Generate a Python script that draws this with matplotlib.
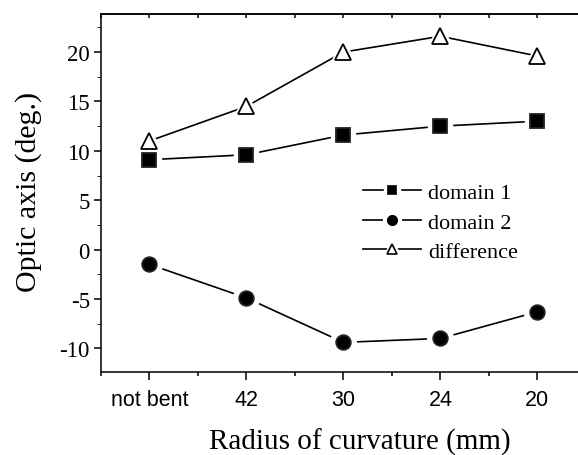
import numpy as np
import matplotlib
matplotlib.use('Agg')
import matplotlib.pyplot as plt
from matplotlib.lines import Line2D
from matplotlib.legend_handler import HandlerTuple
from matplotlib.ticker import MultipleLocator

categories = ['not bent', '42', '30', '24', '20']
domain1 = [9.1, 9.6, 11.6, 12.5, 13.0]
domain2 = [-1.5, -4.9, -9.4, -9.0, -6.3]
difference = [11.0, 14.5, 20.0, 21.6, 19.6]

plt.rcParams['font.family'] = 'Liberation Serif'
plt.rcParams['axes.unicode_minus'] = False

fig = plt.figure(figsize=(5.78, 4.56), dpi=100)
ax = fig.add_axes([0.1747, 0.182, 0.839, 0.785])
x = np.arange(len(categories))

series = [
    (domain1, 's', 9.5, 'black', 'domain 1'),
    (domain2, 'o', 10.5, 'black', 'domain 2'),
    (difference, '^', 12, 'white', 'difference'),
]

handles = []
for vals, mk, ms, fc, lab in series:
    ax.plot(x, vals, '-', color='black', lw=1.2, zorder=2)
    # white halo so the line stops short of each marker
    ax.plot(x, vals, mk, ms=ms + 8, mfc='white', mec='white', ls='none', zorder=3)
    ax.plot(x, vals, mk, ms=ms, mfc=fc, mec='#222222' if fc == 'black' else 'black',
            mew=1.3, ls='none', zorder=4)
    h_line = Line2D([], [], color='black', lw=1.2)
    h_halo = Line2D([], [], marker=mk, ms=ms * 0.65 + 6, mfc='white', mec='white', ls='none')
    h_mark = Line2D([], [], marker=mk, ms=ms * 0.65, mfc=fc, mec='black', mew=1.2, ls='none')
    handles.append(((h_line, h_halo, h_mark), lab))

ax.set_xlim(-0.5, 4.5)
ax.set_ylim(-12.4, 23.85)
ax.set_xticks(x)
ax.set_xticklabels(categories, fontfamily='Liberation Sans', fontsize=15.5)
ax.xaxis.set_minor_locator(MultipleLocator(0.5))
ax.yaxis.set_major_locator(MultipleLocator(5))
ax.yaxis.set_minor_locator(MultipleLocator(2.5))
ax.tick_params(axis='y', labelsize=16.5, direction='out', width=1.1, pad=3)
ax.tick_params(axis='y', which='major', length=5)
ax.tick_params(axis='y', which='minor', length=3)
ax.tick_params(axis='x', which='major', direction='out', length=6, width=1.1, pad=6)
ax.tick_params(axis='x', which='minor', direction='out', length=3, width=1.1)

top = ax.secondary_xaxis('top')
top.set_xticks(np.arange(-0.5, 4.6, 0.5))
top.tick_params(direction='in', length=3, width=1.1, labeltop=False)
top.spines['top'].set_linewidth(1.1)

ax.spines['right'].set_visible(False)
for s in ['left', 'bottom', 'top']:
    ax.spines[s].set_linewidth(1.1)

ax.set_xlabel('Radius of curvature (mm)', fontsize=21)
ax.set_ylabel('Optic axis (deg.)', fontsize=21.5)
ax.xaxis.set_label_coords(0.534, -0.155)
ax.yaxis.set_label_coords(-0.122, 0.507)

ax.legend([h for h, l in handles], [l for h, l in handles],
          handler_map={tuple: HandlerTuple(ndivide=1)},
          loc='upper left', bbox_to_anchor=(0.50, 0.585), frameon=False,
          fontsize=16, handlelength=2.6, handletextpad=0.3, labelspacing=0.4)

fig.savefig('out.png', dpi=100)
